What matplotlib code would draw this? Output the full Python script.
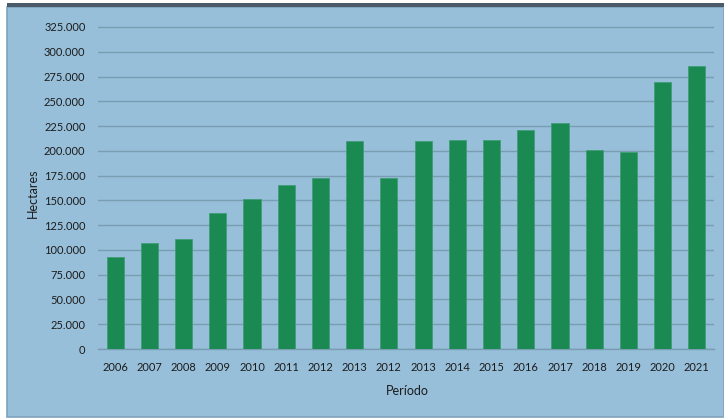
import matplotlib.pyplot as plt
from matplotlib.patches import Rectangle
from matplotlib.ticker import FuncFormatter

periodos = ['2006', '2007', '2008', '2009', '2010', '2011', '2012', '2013',
            '2012', '2013', '2014', '2015', '2016', '2017', '2018', '2019',
            '2020', '2021']
hectareas = [92500, 106700, 111000, 137000, 151000, 166000, 173000, 210000,
             173000, 210000, 211000, 211000, 221000, 228000, 200500, 199000,
             269000, 286000]

fondo = '#97bfd9'
verde = '#1b8a52'
rejilla = '#7a9db4'
texto = '#1c1c1c'

plt.rcParams['font.family'] = ['Lato', 'DejaVu Sans']

fig = plt.figure(figsize=(7.24, 4.19), dpi=100)
W, H = 724, 419

# panel de fondo y barra superior oscura
fig.patches.append(Rectangle((7 / W, 2 / H), 717 / W, 410 / H, transform=fig.transFigure,
                             facecolor=fondo, edgecolor='#7fa3bd', linewidth=1.2, zorder=-10))
fig.patches.append(Rectangle((7 / W, 412 / H), 717 / W, 3.5 / H, transform=fig.transFigure,
                             facecolor='#4b5b69', edgecolor='none', zorder=-9))

# ejes: x de 98 a 714 px, y de 0 (349 px) hasta el tope (20 px)
ax = fig.add_axes([98 / W, (H - 349) / H, 616 / W, 329 / H])
ax.set_facecolor('none')
ax.set_zorder(5)

x = range(len(periodos))
ax.bar(x, hectareas, width=0.5, color=verde, edgecolor='#3f9e76', linewidth=0.6, zorder=3)

ax.set_xlim(-0.5, len(periodos) - 0.5)
ax.set_ylim(0, 325000 * 329 / 322)
ax.set_yticks(range(0, 325001, 25000))
ax.yaxis.set_major_formatter(FuncFormatter(lambda v, p: '0' if v == 0 else f'{int(v):,}'.replace(',', '.')))
ax.set_xticks(list(x))
ax.set_xticklabels(periodos)

ax.grid(axis='y', color=rejilla, linewidth=1.0, zorder=1)
for s in ['top', 'right', 'left']:
    ax.spines[s].set_visible(False)
ax.spines['bottom'].set_color(rejilla)
ax.spines['bottom'].set_linewidth(1.0)

ax.tick_params(axis='both', length=0, labelsize=8, colors=texto)
ax.tick_params(axis='x', pad=9)
ax.tick_params(axis='y', pad=9)

ax.set_ylabel('Hectares', fontsize=9, color=texto)
ax.set_xlabel('Período', fontsize=9, color=texto)
ax.xaxis.set_label_coords(309 / 616, -36 / 329)
ax.yaxis.set_label_coords(-59 / 616, 156 / 329)

fig.savefig('out.png', dpi=100)
